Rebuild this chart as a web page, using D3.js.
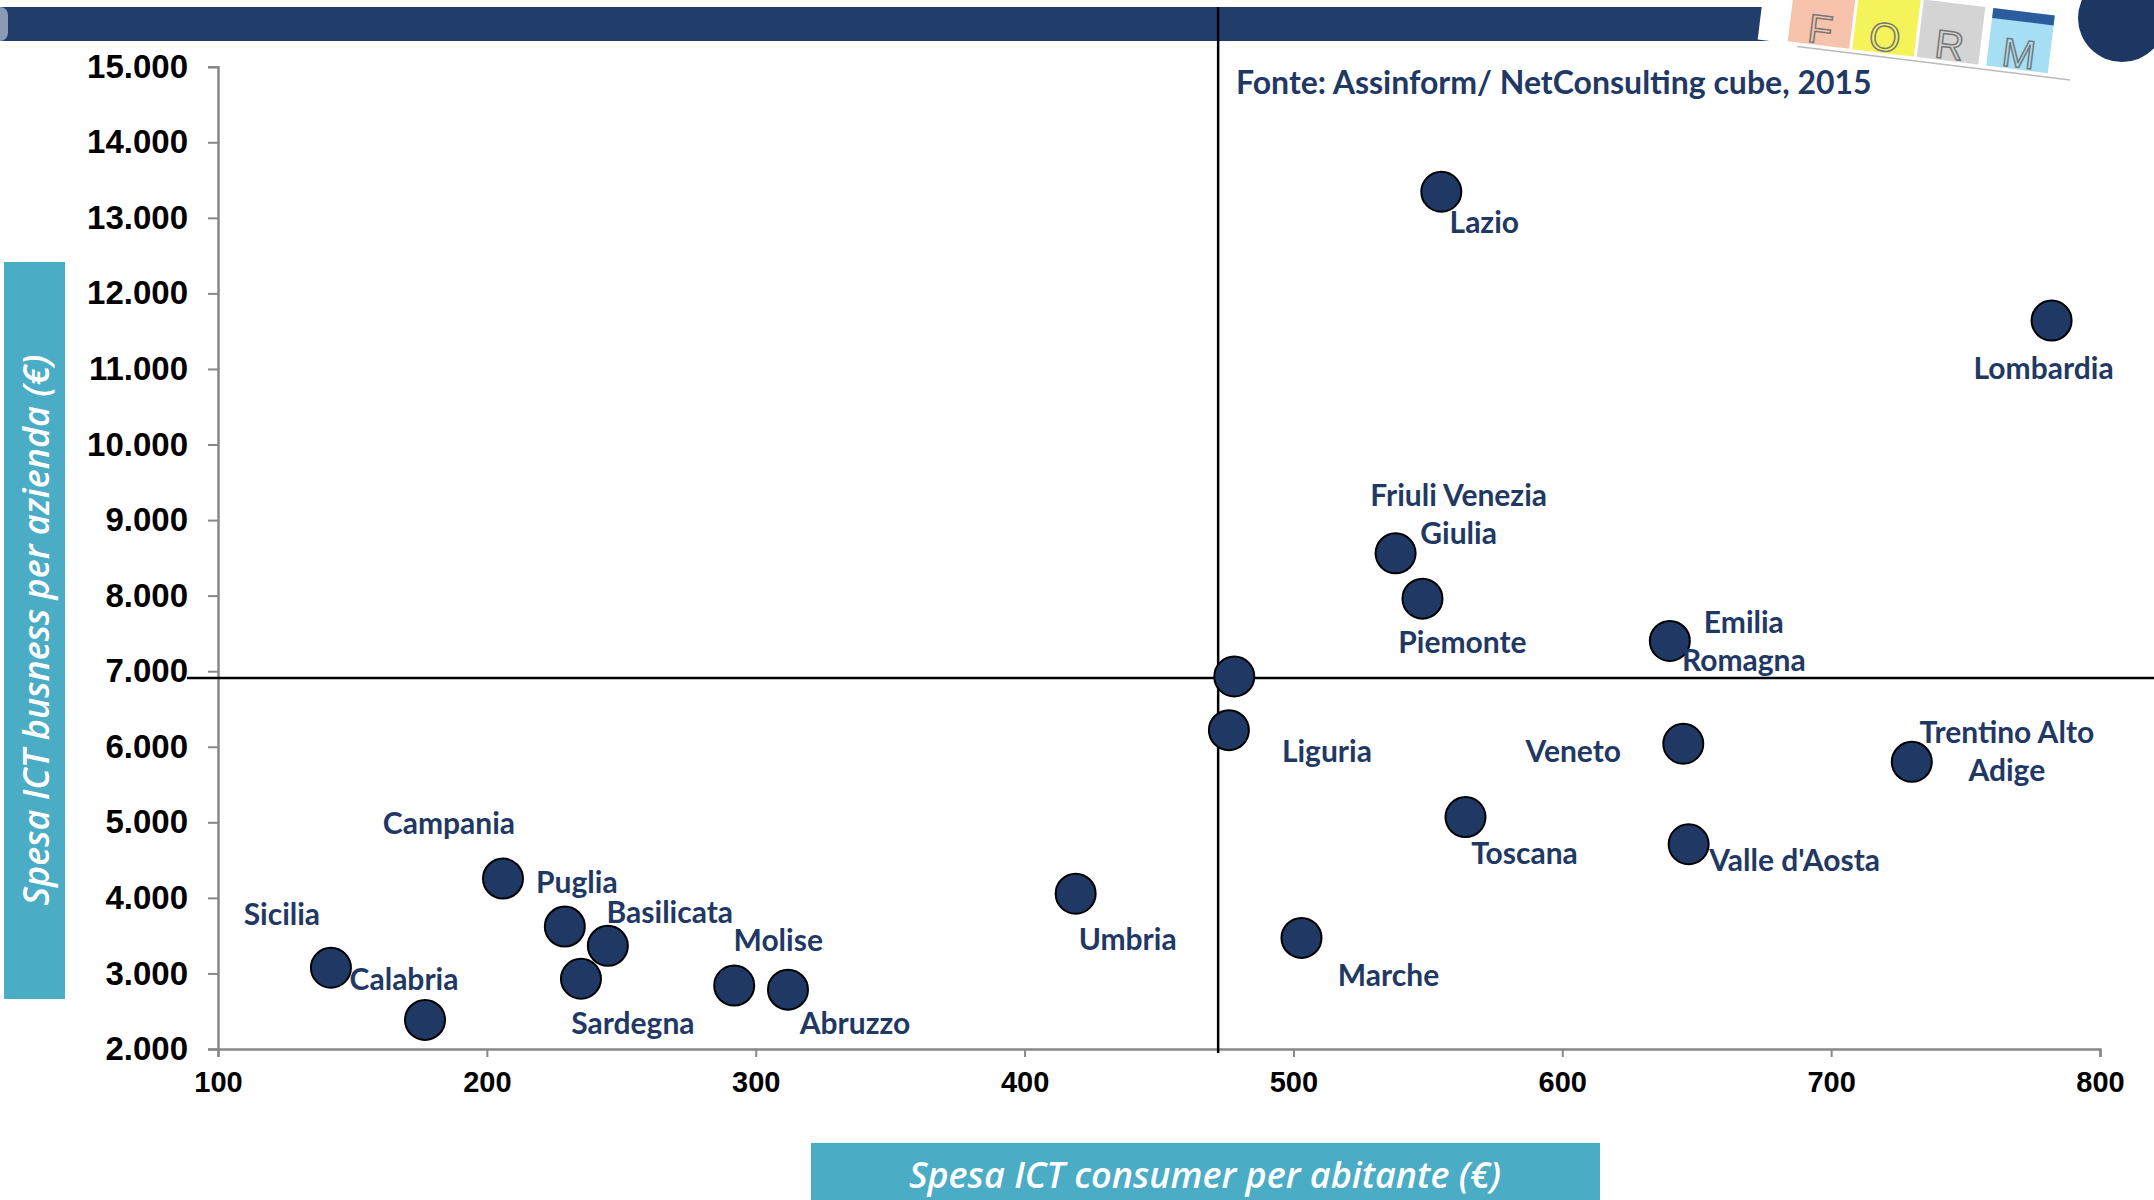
<!DOCTYPE html>
<html>
<head>
<meta charset="utf-8">
<script src="https://d3js.org/d3.v7.min.js"></script>
<style>
  html, body { margin: 0; padding: 0; background: #fff; }
  svg { display: block; }
</style>
</head>
<body>
<svg width="2154" height="1200"></svg>
<script>
"use strict";

// data
var regions  = ["Lazio", "Lombardia", "Friuli Venezia Giulia", "Piemonte", "Emilia Romagna", "Italia",
                "Liguria", "Veneto", "Trentino Alto Adige", "Toscana", "Valle d'Aosta", "Umbria",
                "Marche", "Campania", "Puglia", "Basilicata", "Sardegna", "Molise", "Abruzzo",
                "Sicilia", "Calabria"];
var consumer = [555, 782, 538, 548, 640, 478, 476, 645, 730, 564, 647, 419, 503, 206, 229, 245, 235, 292, 312, 142, 177];
var business = [13345, 11640, 8560, 7960, 7400, 6930, 6220, 6040, 5800, 5070, 4710, 4055, 3470, 4255, 3620, 3365, 2930, 2840, 2785, 3075, 2385];

var avgConsumer = 472,
    avgBusiness = 6910;

var xTicks = [100, 200, 300, 400, 500, 600, 700, 800];
var yTicks = [2000, 3000, 4000, 5000, 6000, 7000, 8000, 9000, 10000, 11000, 12000, 13000, 14000, 15000];

// label placement (offsets in px from the dot, one line per array item)
var labelPos = {
  "Lazio":                [43, 30, ["Lazio"]],
  "Lombardia":            [-8, 48, ["Lombardia"]],
  "Friuli Venezia Giulia":[63, -58, ["Friuli Venezia", "Giulia"]],
  "Piemonte":             [40, 44, ["Piemonte"]],
  "Emilia Romagna":       [74, -19, ["Emilia", "Romagna"]],
  "Liguria":              [98, 21, ["Liguria"]],
  "Veneto":               [-110, 7, ["Veneto"]],
  "Trentino Alto Adige":  [95, -30, ["Trentino Alto", "Adige"]],
  "Toscana":              [59, 36, ["Toscana"]],
  "Valle d'Aosta":        [106, 16, ["Valle d'Aosta"]],
  "Umbria":               [52, 45, ["Umbria"]],
  "Marche":               [87, 37, ["Marche"]],
  "Campania":             [-54, -55, ["Campania"]],
  "Puglia":               [12, -44, ["Puglia"]],
  "Basilicata":           [62, -34, ["Basilicata"]],
  "Sardegna":             [52, 44, ["Sardegna"]],
  "Molise":               [44, -45, ["Molise"]],
  "Abruzzo":              [67, 34, ["Abruzzo"]],
  "Sicilia":              [-49, -54, ["Sicilia"]],
  "Calabria":             [-21, -41, ["Calabria"]]
};

var navy = "#1f3864",
    teal = "#4bacc6";

var svg = d3.select("svg");

var x = d3.scaleLinear().domain([100, 800]).range([218, 2100]),
    y = d3.scaleLinear().domain([2000, 15000]).range([1049, 66.7]);

var fmt = function(v) { return d3.format(",.3f")(v / 1000).replace(",", ""); };

// ---- header band + logo ----
svg.append("rect").attr("x", 0).attr("y", 7).attr("width", 1840).attr("height", 34).attr("fill", "#203e69");
svg.append("rect").attr("x", -8).attr("y", 7).attr("width", 16).attr("height", 34).attr("rx", 8).attr("fill", "#8a9bb3");

var logo = svg.append("g").attr("transform", "translate(1765,-20) rotate(7)");
logo.append("rect").attr("x", 0).attr("y", 0).attr("width", 315).attr("height", 60).attr("fill", "#fff");
logo.append("line").attr("x1", 40).attr("x2", 315).attr("y1", 62).attr("y2", 62).attr("stroke", "#bbb").attr("stroke-width", 1.5);
var tiles = [["F", "#f7c3ad", 30], ["O", "#f5f35a", 95], ["R", "#d4d4d4", 160], ["M", "#a6def4", 230]];
tiles.forEach(function(t) {
  logo.append("rect").attr("x", t[2]).attr("y", 0).attr("width", 62).attr("height", 58).attr("fill", t[1]);
  logo.append("text").attr("x", t[2] + 31).attr("y", 56).attr("text-anchor", "middle")
      .attr("font-family", "Liberation Sans, Arial").attr("font-size", 40)
      .attr("fill", "none").attr("stroke", "#777").attr("stroke-width", 1.5).text(t[0]);
});
logo.append("rect").attr("x", 230).attr("y", 0).attr("width", 62).attr("height", 10).attr("fill", "#2b5d9e");
svg.append("circle").attr("cx", 2122).attr("cy", 18).attr("r", 44).attr("fill", "#1d3763");

// ---- axes ----
var axisColor = "#888";
var xAxis = svg.append("g").attr("transform", "translate(0," + y(2000) + ")")
    .call(d3.axisBottom(x).tickValues(xTicks).tickSize(8).tickPadding(14).tickFormat(d3.format("d")));
xAxis.selectAll("text").attr("font-family", "Liberation Sans, Arial").attr("font-weight", "bold")
     .attr("font-size", 29).attr("fill", "#000");

var yAxis = svg.append("g").attr("transform", "translate(" + x(100) + ",0)")
    .call(d3.axisLeft(y).tickValues(yTicks).tickSize(10).tickPadding(20).tickFormat(fmt));
yAxis.selectAll("text").attr("font-family", "Liberation Sans, Arial").attr("font-weight", "bold")
     .attr("font-size", 33).attr("fill", "#000");

[xAxis, yAxis].forEach(function(a) {
  a.select(".domain").attr("stroke", axisColor).attr("stroke-width", 2.5);
  a.selectAll(".tick line").attr("stroke", axisColor).attr("stroke-width", 2);
});

// ---- average lines ----
svg.append("line").attr("x1", 187).attr("x2", 2154).attr("y1", y(avgBusiness)).attr("y2", y(avgBusiness))
   .attr("stroke", "#000").attr("stroke-width", 2.5);
svg.append("line").attr("x1", x(avgConsumer)).attr("x2", x(avgConsumer)).attr("y1", 7).attr("y2", 1053)
   .attr("stroke", "#000").attr("stroke-width", 2.5);

// ---- points ----
var points = regions.map(function(r, i) { return {name: r, cx: consumer[i], cy: business[i]}; });

svg.append("g").selectAll("circle")
  .data(points)
  .enter().append("circle")
    .attr("cx", function(d) { return x(d.cx); })
    .attr("cy", function(d) { return y(d.cy); })
    .attr("r", 20)
    .attr("fill", navy)
    .attr("stroke", "#000")
    .attr("stroke-width", 2);

var labels = svg.append("g").selectAll("text")
  .data(points.filter(function(d) { return labelPos[d.name]; }))
  .enter().append("text")
    .attr("font-family", "Lato, 'Open Sans', sans-serif")
    .attr("font-weight", "bold")
    .attr("font-size", 30)
    .attr("fill", navy)
    .attr("text-anchor", "middle");

labels.each(function(d) {
  var p = labelPos[d.name], t = d3.select(this);
  p[2].forEach(function(line, k) {
    t.append("tspan")
      .attr("x", x(d.cx) + p[0])
      .attr("y", y(d.cy) + p[1] + k * 38)
      .attr("dy", "0.36em")
      .text(line);
  });
});

// ---- source note ----
svg.append("text").attr("x", 1236).attr("y", 82).attr("dy", "0.36em")
   .attr("font-family", "Lato, 'Open Sans', sans-serif").attr("font-weight", "bold")
   .attr("font-size", 32).attr("fill", navy)
   .text("Fonte: Assinform/ NetConsulting cube, 2015");

// ---- axis titles ----
svg.append("rect").attr("x", 811).attr("y", 1143).attr("width", 789).attr("height", 60).attr("fill", teal);
svg.append("text").attr("x", 1205).attr("y", 1175).attr("dy", "0.36em").attr("text-anchor", "middle")
   .attr("font-family", "'Open Sans', sans-serif").attr("font-style", "italic").attr("font-weight", 600)
   .attr("font-size", 36).attr("fill", "#fff")
   .text("Spesa ICT consumer per abitante (€)");

svg.append("rect").attr("x", 4).attr("y", 262).attr("width", 61).attr("height", 737).attr("fill", teal);
svg.append("text").attr("transform", "translate(36,630) rotate(-90)").attr("dy", "0.36em").attr("text-anchor", "middle")
   .attr("font-family", "'Open Sans', sans-serif").attr("font-style", "italic").attr("font-weight", 600)
   .attr("font-size", 36).attr("fill", "#fff")
   .text("Spesa ICT busness per azienda (€)");
</script>
</body>
</html>
